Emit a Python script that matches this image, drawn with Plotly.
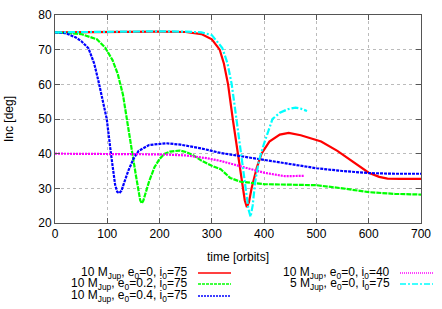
import plotly.graph_objects as go

# --- data ---
red_x = [0, 100, 200, 250, 280, 300, 315, 323, 331, 340, 350, 358, 363, 367, 371, 376, 386, 395, 410, 430, 447, 470, 509, 540, 572, 600, 620, 636, 660, 700]
red_y = [75, 75.2, 75.2, 75.1, 74.5, 73, 70, 66, 60, 50, 40, 31, 26.5, 24.6, 26, 30, 36, 40, 43.5, 45.5, 46, 45.3, 43.5, 40.8, 37.3, 34.5, 33.3, 32.8, 32.7, 32.7]

green_x = [0, 50, 80, 96, 110, 120, 130, 138, 148, 155, 160, 163, 166, 169, 173, 180, 190, 200, 210, 220, 239, 250, 265, 280, 300, 317, 335, 355, 400, 450, 500, 550, 600, 650, 700]
green_y = [75, 74.5, 73, 70.6, 67, 63, 57, 50, 40, 33.5, 29, 26.5, 25.7, 26.5, 28.5, 32, 36, 38.5, 40, 40.6, 40.9, 40.5, 39.5, 38, 36.5, 35.5, 33, 31.9, 31.2, 31, 30.9, 30, 28.9, 28.4, 28.2]

blue_x = [0, 20, 40, 50, 64, 75, 83, 90, 99, 107, 115, 119, 123, 127, 132, 140, 150, 160, 180, 213, 240, 280, 317, 360, 400, 450, 500, 550, 600, 650, 700]
blue_y = [75, 74.8, 73.5, 72.5, 70.4, 66, 61, 56, 50, 40, 31, 29, 28.6, 29.3, 31.5, 35, 38.5, 40.8, 42.5, 43, 42.6, 41.5, 40.2, 39.2, 38.2, 37, 35.8, 35, 34.4, 34.2, 34.2]

mag_x = [0, 100, 200, 250, 290, 317, 355, 400, 440, 476]
mag_y = [40, 40, 39.8, 39.5, 38.7, 37.9, 36.3, 34.5, 33.5, 33.6]

cyan_x = [0, 100, 200, 250, 280, 300, 320, 330, 338, 347, 356, 364, 370, 374, 378, 383, 390, 400, 416, 430, 445, 460, 470, 482]
cyan_y = [75, 75.2, 75.3, 75.2, 75, 74.2, 70.5, 66, 60, 50, 40, 30, 24, 21.8, 25, 32, 38, 43, 50, 51.8, 52.8, 53.3, 53, 52.3]

labels = [
    "10 M<sub>Jup</sub>, e<sub>0</sub>=0, i<sub>0</sub>=75",
    "10 M<sub>Jup</sub>, e<sub>0</sub>=0.2, i<sub>0</sub>=75",
    "10 M<sub>Jup</sub>, e<sub>0</sub>=0.4, i<sub>0</sub>=75",
    "10 M<sub>Jup</sub>, e<sub>0</sub>=0, i<sub>0</sub>=40",
    "5 M<sub>Jup</sub>, e<sub>0</sub>=0, i<sub>0</sub>=75",
]
colors = ["#ff0000", "#00ff00", "#0000ff", "#ff00ff", "#00ffff"]
dashes = ["solid", "5px,1px", "3px,1px", "2px,1px", "7px,2px,2px,2px"]
leg_dashes = ["solid", "3px,1px", "2px,1px", "1px,1px", "6px,2px,2px,2px"]
widths = [2.2, 2.2, 2.2, 2.2, 2.2]

xs = [red_x, green_x, blue_x, mag_x, cyan_x]
ys = [red_y, green_y, blue_y, mag_y, cyan_y]

FONT = "Liberation Sans, Arial, sans-serif"

fig = go.Figure()
for x, y, c, d, w, lab in zip(xs, ys, colors, dashes, widths, labels):
    fig.add_trace(go.Scatter(x=x, y=y, mode="lines", name=lab,
                             line=dict(color=c, dash=d, width=w),
                             showlegend=False))

# gnuplot-style legend below the plot (text right-aligned, sample to the right)
W = 366.0
H = 208.0
def px2x(p):
    return (p - 55) / W
def py2y(p):
    return (223 - p) / H

legend_pos = [
    (190, 198, 231, 273),
    (190, 198, 231, 284),
    (190, 198, 231, 296),
    (392, 400, 433, 273),
    (392, 400, 433, 284),
]
for (tr, l0, l1, py), lab, c, d in zip(legend_pos, labels, colors, leg_dashes):
    fig.add_annotation(x=px2x(tr), y=py2y(py), xref="paper", yref="paper",
                       text=lab, showarrow=False, xanchor="right", yanchor="middle",
                       font=dict(family=FONT, size=12, color="black"))
    fig.add_shape(type="line", xref="paper", yref="paper",
                  x0=px2x(l0), x1=px2x(l1), y0=py2y(py), y1=py2y(py),
                  line=dict(color=c, dash=d, width=1.5))

axis_common = dict(
    showline=True, linecolor="#555555", linewidth=1, mirror="ticks",
    ticks="inside", ticklen=5, tickcolor="#555555",
    showgrid=True, gridcolor="#bbbbbb", griddash="dot", gridwidth=1,
    zeroline=False, automargin=False,
    tickfont=dict(family=FONT, size=12, color="black"),
)

fig.update_xaxes(range=[0, 700], dtick=100, tick0=0,
                 title=dict(text="time [orbits]", font=dict(family=FONT, size=12, color="black"), standoff=12),
                 **axis_common)
fig.update_yaxes(range=[20, 80], dtick=10, tick0=20,
                 title=dict(text="Inc [deg]", font=dict(family=FONT, size=12, color="black"), standoff=22),
                 **axis_common)

fig.update_layout(
    width=442, height=309,
    margin=dict(l=55, r=21, t=15, b=86),
    plot_bgcolor="white", paper_bgcolor="white",
    font=dict(family=FONT, size=12, color="black"),
)

fig.write_html("out.html", config={"displayModeBar": False},
               post_script="document.body.style.margin='0';document.body.style.overflow='hidden';")
